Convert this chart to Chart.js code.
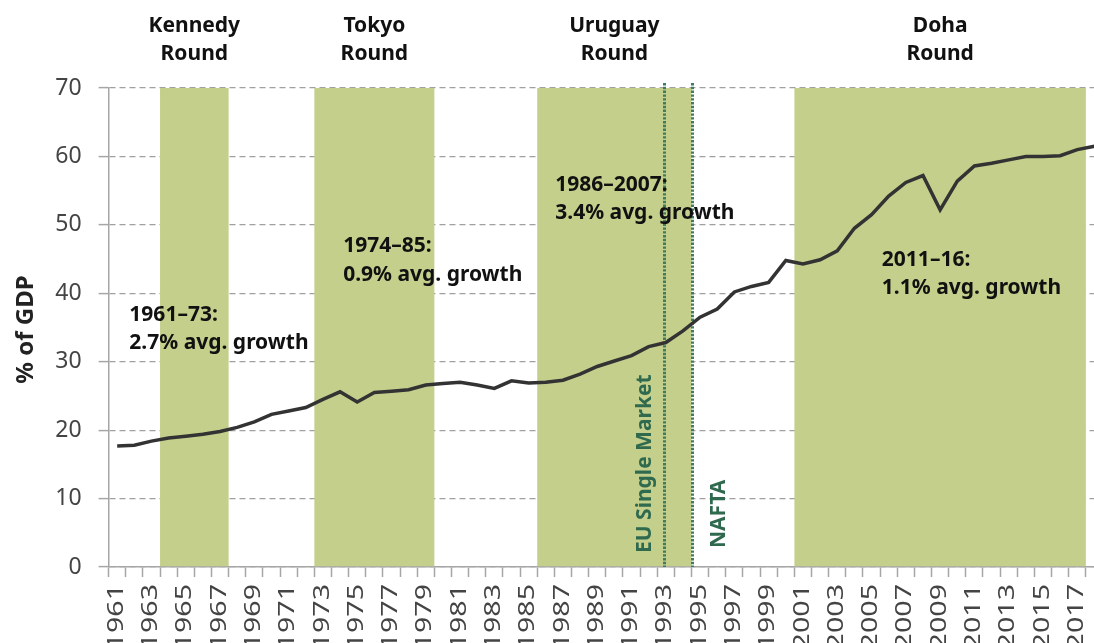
<!DOCTYPE html>
<html>
<head>
<meta charset="utf-8">
<style>
  html, body { margin: 0; padding: 0; overflow: hidden; background: #ffffff; width: 1094px; height: 643px; }
  #wrap { position: absolute; left: 0; top: 0; width: 1103px; height: 660px; }
</style>
<script src="https://cdn.jsdelivr.net/npm/chart.js@4"></script>
</head>
<body>
<div id="wrap"><canvas id="c" width="1103" height="660"></canvas></div>
<script>
// ---------- DATA ----------
const years = ['1961','1962','1963','1964','1965','1966','1967','1968','1969','1970',
  '1971','1972','1973','1974','1975','1976','1977','1978','1979','1980',
  '1981','1982','1983','1984','1985','1986','1987','1988','1989','1990',
  '1991','1992','1993','1994','1995','1996','1997','1998','1999','2000',
  '2001','2002','2003','2004','2005','2006','2007','2008','2009','2010',
  '2011','2012','2013','2014','2015','2016','2017','2018'];

const tradeShareOfGDP = [17.7, 17.8, 18.4, 18.85, 19.1, 19.4, 19.8, 20.4, 21.2, 22.3,
  22.8, 23.3, 24.5, 25.6, 24.1, 25.5, 25.7, 25.9, 26.6, 26.8,
  27.0, 26.6, 26.1, 27.2, 26.9, 27.0, 27.3, 28.2, 29.3, 30.1,
  30.9, 32.2, 32.8, 34.5, 36.5, 37.7, 40.2, 41.0, 41.6, 44.8,
  44.3, 44.9, 46.2, 49.5, 51.5, 54.2, 56.2, 57.2, 52.2, 56.4,
  58.6, 59.0, 59.5, 60.0, 60.0, 60.1, 61.0, 61.5];

const xTickLabels = ['1961','1963','1965','1967','1969','1971','1973','1975','1977','1979',
  '1981','1983','1985','1987','1989','1991','1993','1995','1997','1999',
  '2001','2003','2005','2007','2009','2011','2013','2015','2017'];

const yTickValues = [0, 10, 20, 30, 40, 50, 60, 70];
const yAxisTitle = '% of GDP';

const roundNames = ['Kennedy', 'Tokyo', 'Uruguay', 'Doha'];
const roundStartYear = ['1964', '1973', '1986', '2001'];
const roundEndYear = ['1967', '1979', '1994', '2017'];

const periodLabels = ['1961–73:', '1974–85:', '1986–2007:', '2011–16:'];
const growthLabels = ['2.7% avg. growth', '0.9% avg. growth', '3.4% avg. growth', '1.1% avg. growth'];

const eventLabels = ['EU Single Market', 'NAFTA'];
const eventYears = ['1993', '1994'];

// ---------- LAYOUT / STYLE (not data) ----------
const FONT = "'Noto Sans', 'Open Sans', sans-serif";
const BAND_COLOR = '#c5cf8c';
const EVENT_COLOR = '#3f7d5e';
const EVENT_TEXT = '#2f6a4f';
const AXIS_GRAY = '#a6a6a6';
// annotation anchors: [category offset from first year, baseline value]
const annoAnchor = [[0.71, 36], [13.18, 46], [25.55, 55], [44.6, 44]];
// event line horizontal shift (in category widths) and label offsets
const eventShift = [-0.12, 0.5];
const eventLabelDx = [-14, 32];
const eventLabelBottomGap = [14, 19];

const deco = {
  id: 'deco',
  beforeDatasetsDraw(chart) {
    const { ctx, scales: { x, y } } = chart;
    const half = (x.getPixelForValue(1) - x.getPixelForValue(0)) / 2;
    const yTop = y.getPixelForValue(70), yBot = y.getPixelForValue(0) - 0.75;
    ctx.save();
    ctx.fillStyle = BAND_COLOR;
    roundStartYear.forEach((s, i) => {
      const x0 = x.getPixelForValue(years.indexOf(s)) - half;
      const x1 = x.getPixelForValue(years.indexOf(roundEndYear[i])) + half;
      ctx.fillRect(x0, yTop, x1 - x0, yBot - yTop);
    });
    // event dotted lines (under the data line)
    const eTop = y.getPixelForValue(70) - 5, eBot = y.getPixelForValue(0);
    eventYears.forEach((yr, i) => {
      const px = Math.round(x.getPixelForValue(years.indexOf(yr) + eventShift[i])) + 0.5;
      ctx.strokeStyle = EVENT_COLOR;
      ctx.lineWidth = 3;
      ctx.setLineDash([2.4, 1.4]);
      ctx.beginPath();
      ctx.moveTo(px, eTop);
      ctx.lineTo(px, eBot);
      ctx.stroke();
    });
    ctx.restore();
  },
  afterDatasetsDraw(chart) {
    const { ctx, scales: { x, y } } = chart;
    const yBot = y.getPixelForValue(0);
    ctx.save();
    eventYears.forEach((yr, i) => {
      const px = Math.round(x.getPixelForValue(years.indexOf(yr) + eventShift[i])) + 0.5;
      ctx.save();
      ctx.translate(px + eventLabelDx[i], yBot - eventLabelBottomGap[i]);
      ctx.rotate(-Math.PI / 2);
      ctx.fillStyle = EVENT_TEXT;
      ctx.font = 'bold 21px ' + FONT;
      ctx.textAlign = 'left';
      ctx.textBaseline = 'alphabetic';
      ctx.fillText(eventLabels[i], 0, 0);
      ctx.restore();
    });
    ctx.restore();
  },
  afterDraw(chart) {
    const { ctx, chartArea: a, scales: { x, y } } = chart;
    const half = (x.getPixelForValue(1) - x.getPixelForValue(0)) / 2;
    ctx.save();
    // round headers
    ctx.fillStyle = '#111111';
    ctx.font = 'bold 21px ' + FONT;
    ctx.textAlign = 'center';
    ctx.textBaseline = 'alphabetic';
    roundNames.forEach((n, i) => {
      const x0 = x.getPixelForValue(years.indexOf(roundStartYear[i])) - half;
      const x1 = x.getPixelForValue(years.indexOf(roundEndYear[i])) + half;
      const cx = (x0 + x1) / 2;
      ctx.fillText(n, cx, a.top - 56);
      ctx.fillText('Round', cx, a.top - 28);
    });
    // growth annotations
    ctx.textAlign = 'left';
    periodLabels.forEach((p, i) => {
      const px = x.getPixelForValue(annoAnchor[i][0]);
      const py = y.getPixelForValue(annoAnchor[i][1]);
      ctx.fillText(p, px, py);
      ctx.fillText(growthLabels[i], px, py + 28.5);
    });
    // y axis title
    ctx.save();
    ctx.translate(33, (a.top + a.bottom) / 2 + 2);
    ctx.rotate(-Math.PI / 2);
    ctx.font = 'bold 24px ' + FONT;
    ctx.fillStyle = '#222222';
    ctx.textAlign = 'center';
    ctx.fillText(yAxisTitle, 0, 0);
    ctx.restore();
    // x tick labels (rotated)
    ctx.font = '22px ' + FONT;
    ctx.fillStyle = '#444444';
    xTickLabels.forEach(lbl => {
      const px = x.getPixelForValue(years.indexOf(lbl));
      ctx.save();
      ctx.translate(px + 5.6, a.bottom + 17);
      ctx.rotate(-Math.PI / 2);
      ctx.scale(1.3, 1);
      ctx.textAlign = 'right';
      ctx.textBaseline = 'alphabetic';
      ctx.fillText(lbl, 0, 0);
      ctx.restore();
    });
    ctx.restore();
  }
};

new Chart(document.getElementById('c'), {
  type: 'line',
  data: {
    labels: years,
    datasets: [{
      data: tradeShareOfGDP,
      borderColor: '#333333',
      borderWidth: 3.5,
      pointRadius: 0,
      tension: 0,
      fill: false,
      clip: false
    }]
  },
  options: {
    responsive: false,
    devicePixelRatio: 1,
    animation: false,
    events: [],
    layout: { padding: { top: 88, right: 0, left: 0, bottom: 0 } },
    plugins: { legend: { display: false }, tooltip: { enabled: false }, title: { display: false } },
    scales: {
      x: {
        type: 'category',
        offset: true,
        grid: { display: true, drawOnChartArea: false, drawTicks: true, tickLength: 10, offset: true, tickColor: AXIS_GRAY, tickWidth: 1.5 },
        border: { display: true, color: AXIS_GRAY, width: 1.5 },
        ticks: { display: false },
        afterFit(s) { s.height = 660 - 567; }
      },
      y: {
        min: 0,
        max: 70,
        afterBuildTicks(s) { s.ticks = yTickValues.map(v => ({ value: v })); },
        grid: { color: '#a0a0a0', lineWidth: 1.2, tickLength: 10, tickColor: AXIS_GRAY, tickWidth: 1.5, tickBorderDash: [] },
        border: { display: true, color: AXIS_GRAY, width: 1.5, dash: [6, 4] },
        ticks: { color: '#444444', padding: 17, font: { family: FONT, size: 23 } },
        afterFit(s) { s.width = 108.6; }
      }
    }
  },
  plugins: [deco]
});
</script>
</body>
</html>
